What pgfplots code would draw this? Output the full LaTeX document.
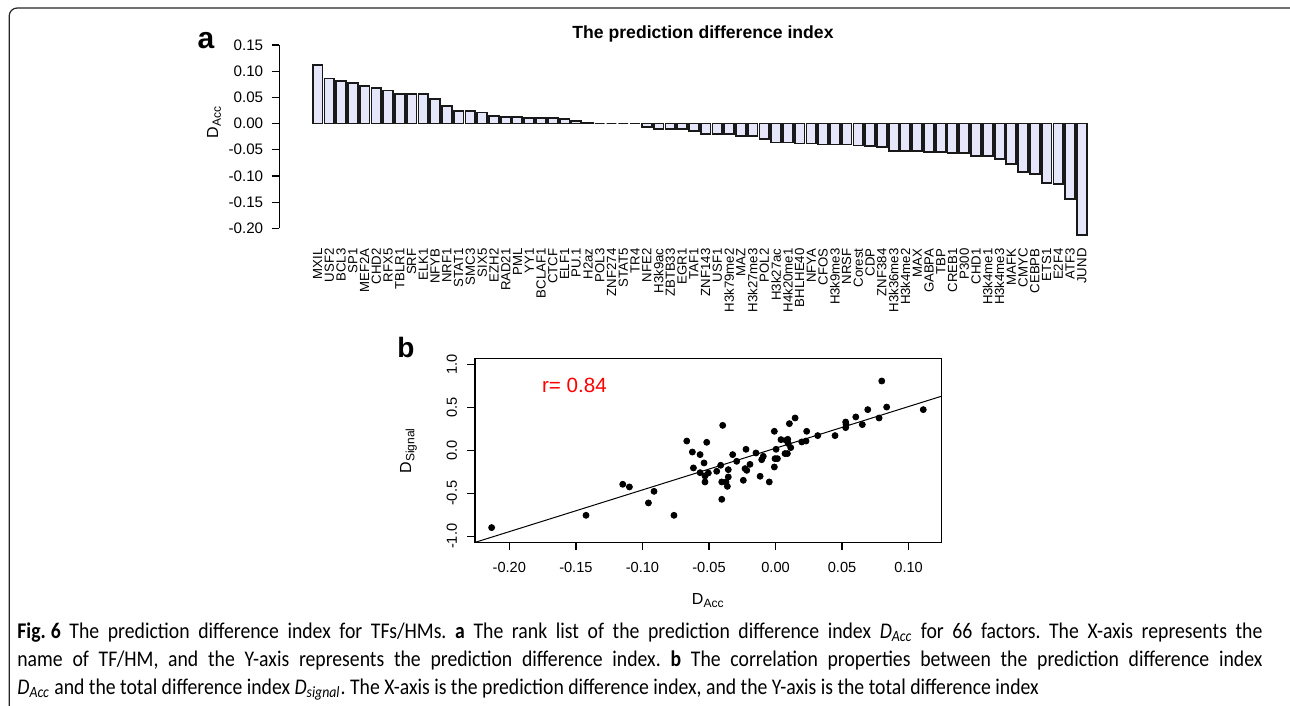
\documentclass[border=0pt]{standalone}
\usepackage{fontspec}
\setmainfont{Liberation Sans}
\newfontfamily\capfont[FakeStretch=0.88]{Carlito}
\usepackage{pgfplots}
\usepackage{pgfplotstable}
\pgfplotsset{compat=1.18}
\definecolor{lav}{HTML}{E6E6FA}
\definecolor{rred}{HTML}{FF0000}

\pgfplotstableread{
x y name
0.7 0.112 MXIL
1.9 0.086 USF2
3.1 0.081 BCL3
4.3 0.078 SP1
5.5 0.071 MEF2A
6.7 0.068 CHD2
7.9 0.063 RFX5
9.1 0.056 TBLR1
10.3 0.056 SRF
11.5 0.056 ELK1
12.7 0.047 NFYB
13.9 0.034 NRF1
15.1 0.024 STAT1
16.3 0.024 SMC3
17.5 0.021 SIX5
18.7 0.015 EZH2
19.9 0.013 RAD21
21.1 0.013 PML
22.3 0.011 YY1
23.5 0.011 BCLAF1
24.7 0.011 CTCF
25.9 0.008 ELF1
27.1 0.005 PU.1
28.3 0.002 H2az
29.5 0 POL3
30.7 0 ZNF274
31.9 0 STAT5
33.1 0 TR4
34.3 -0.0065 NFE2
35.5 -0.0097 H3k9ac
36.7 -0.011 ZBTB33
37.9 -0.011 EGR1
39.1 -0.014 TAF1
40.3 -0.0195 ZNF143
41.5 -0.020 USF1
42.7 -0.020 H3k79me2
43.9 -0.023 MAZ
45.1 -0.023 H3k27me3
46.3 -0.029 POL2
47.5 -0.036 H3k27ac
48.7 -0.036 H4k20me1
49.9 -0.038 BHLHE40
51.1 -0.038 NFYA
52.3 -0.040 CFOS
53.5 -0.040 H3k9me3
54.7 -0.040 NRSF
55.9 -0.042 Corest
57.1 -0.043 CDP
58.3 -0.045 ZNF384
59.5 -0.052 H3k36me3
60.7 -0.052 H3k4me2
61.9 -0.052 MAX
63.1 -0.054 GABPA
64.3 -0.054 TBP
65.5 -0.056 CREB1
66.7 -0.056 P300
67.9 -0.062 CHD1
69.1 -0.062 H3k4me1
70.3 -0.067 H3k4me3
71.5 -0.077 MAFK
72.7 -0.092 CMYC
73.9 -0.097 CEBPB
75.1 -0.114 ETS1
76.3 -0.116 E2F4
77.5 -0.144 ATF3
78.7 -0.212 JUND
}\bardata

\pgfplotstableread{
x y
-0.2133 -0.899
-0.1424 -0.756
-0.1148 -0.395
-0.1098 -0.426
-0.0955 -0.612
-0.0913 -0.477
-0.0763 -0.756
-0.0667 0.108
-0.0625 -0.020
-0.0617 -0.205
-0.0567 -0.050
-0.0567 -0.260
-0.0537 -0.147
-0.0530 -0.298
-0.0530 -0.368
-0.0517 0.093
-0.0505 -0.264
-0.0442 -0.244
-0.0412 -0.174
-0.0404 -0.368
-0.0404 -0.570
-0.0397 0.290
-0.0372 -0.368
-0.0362 -0.419
-0.0355 -0.225
-0.0355 -0.310
-0.0322 -0.050
-0.0292 -0.128
-0.0242 -0.349
-0.0229 -0.213
-0.0222 0.012
-0.0216 -0.233
-0.0192 -0.163
-0.0147 -0.031
-0.0116 -0.302
-0.0104 -0.109
-0.0092 -0.070
-0.0047 -0.368
-0.0009 0.221
-0.0009 -0.194
-0.0004 -0.097
0.0004 0.012
0.0014 -0.097
0.0041 0.124
0.0071 -0.038
0.0079 0.116
0.0089 -0.038
0.0092 0.128
0.0096 0.078
0.0104 0.310
0.0114 0.031
0.0147 0.376
0.0197 0.097
0.0229 0.108
0.0234 0.221
0.0317 0.171
0.0447 0.171
0.0527 0.264
0.0530 0.300
0.0527 0.329
0.0603 0.388
0.0652 0.299
0.0693 0.473
0.0778 0.376
0.0798 0.806
0.0835 0.503
0.1110 0.473
}\scatdata

\begin{document}
\begin{tikzpicture}
\useasboundingbox (0,0) rectangle (645pt,-353pt);
\clip (0,0) rectangle (645pt,-353pt);
\fill[white] (0,0) rectangle (645pt,-353pt);
\draw[line width=0.6pt, black!85, rounded corners=4pt] (4.6pt,-370pt) -- (4.6pt,-4pt) -- (660pt,-4pt);

% panel a
\begin{axis}[
  at={(139.65pt,-114.17pt)}, anchor=south west,
  scale only axis, width=403.7pt, height=91.67pt,
  xmin=-3.21, xmax=79.2, ymin=-0.2, ymax=0.15,
  clip=false,
  axis y line*=left, axis x line*=bottom,
  x axis line style={draw=none},
  y axis line style={line width=0.6pt, black},
  xtick=data, xticklabels from table={\bardata}{name},
  xtick style={draw=none},
  xticklabel style={rotate=90, anchor=east, font=\fontsize{6.6}{7}\selectfont, inner sep=0pt},
  xticklabel shift=6pt,
  ytick={-0.2,-0.15,-0.1,-0.05,0,0.05,0.1,0.15},
  yticklabels={-0.20,-0.15,-0.10,-0.05,0.00,0.05,0.10,0.15},
  ytick style={line width=0.6pt, black},
  tick align=outside, major tick length=3.85pt,
  yticklabel style={font=\fontsize{7.6}{8}\selectfont, inner sep=0pt},
  yticklabel shift=4pt,
]
\addplot[ybar, bar width=1, fill=lav, draw=black!90, line width=0.9pt] table[x=x,y=y]{\bardata};
\end{axis}
\node[rotate=90, font=\fontsize{8}{9}\selectfont] at (107pt,-61pt) {D\textsubscript{Acc}};
\node[anchor=base, font=\bfseries\fontsize{8.8}{10}\selectfont] at (351.5pt,-19.15pt) {The prediction difference index};
\node[anchor=base, font=\bfseries\fontsize{15}{16}\selectfont, inner sep=0pt] at (103pt,-24.5pt) {a};
\node[anchor=base, font=\bfseries\fontsize{14}{16}\selectfont, inner sep=0pt] at (203pt,-178.5pt) {b};

% panel b
\begin{axis}[
  at={(237.5pt,-271.15pt)}, anchor=south west,
  scale only axis, width=233.25pt, height=92pt,
  xmin=-0.2258, xmax=0.1247, ymin=-1.07, ymax=1.07,
  xtick={-0.2,-0.15,-0.1,-0.05,0,0.05,0.1},
  xticklabels={-0.20,-0.15,-0.10,-0.05,0.00,0.05,0.10},
  ytick={-1,-0.5,0,0.5,1},
  yticklabels={-1.0,-0.5,0.0,0.5,1.0},
  tick align=outside, xtick pos=bottom, ytick pos=left, major tick length=3.85pt,
  axis line style={line width=0.7pt, black},
  tick style={line width=0.7pt, black},
  ticklabel style={font=\fontsize{7.3}{8}\selectfont, inner sep=0pt},
  yticklabel style={rotate=90, anchor=south},
  xticklabel shift=6pt, yticklabel shift=5pt,
  xlabel={D\textsubscript{Acc}}, ylabel={D\textsubscript{Signal}},
  label style={font=\fontsize{8}{9}\selectfont},
  xlabel style={at={(axis description cs:0.5,-0.318)}, anchor=center},
  ylabel style={at={(axis description cs:-0.1426,0.5)}, anchor=center},
]
\addplot[only marks, mark=*, mark size=1.5pt, black] table[x=x,y=y]{\scatdata};
\addplot[black, line width=0.5pt] coordinates {(-0.2258,-1.071) (0.1247,0.629)};
\end{axis}
\node[anchor=base west, text=rred, font=\fontsize{10.3}{12}\selectfont, inner sep=0pt] at (270.85pt,-196pt) {r= 0.84};

% caption
\begin{scope}[every node/.style={anchor=base west, inner sep=0pt, font=\capfont\fontsize{11.2}{12}\selectfont\frenchspacing}]
\node at (8.5pt,-319pt) {\makebox[622.5pt][s]{\textbf{Fig.\kern0.22em6} The prediction difference index for TFs/HMs. \textbf{a} The rank list of the prediction difference index \textit{D}\textsubscript{\textit{Acc}} for 66 factors. The X-axis represents the}};
\node at (8.5pt,-333pt) {\makebox[622.5pt][s]{name of TF/HM, and the Y-axis represents the prediction difference index. \textbf{b} The correlation properties between the prediction difference index}};
\node at (8.5pt,-347pt) {\textit{D}\textsubscript{\textit{Acc}} and the total difference index \textit{D}\textsubscript{\textit{signal}}. The X-axis is the prediction difference index, and the Y-axis is the total difference index};
\end{scope}
\end{tikzpicture}
\end{document}
